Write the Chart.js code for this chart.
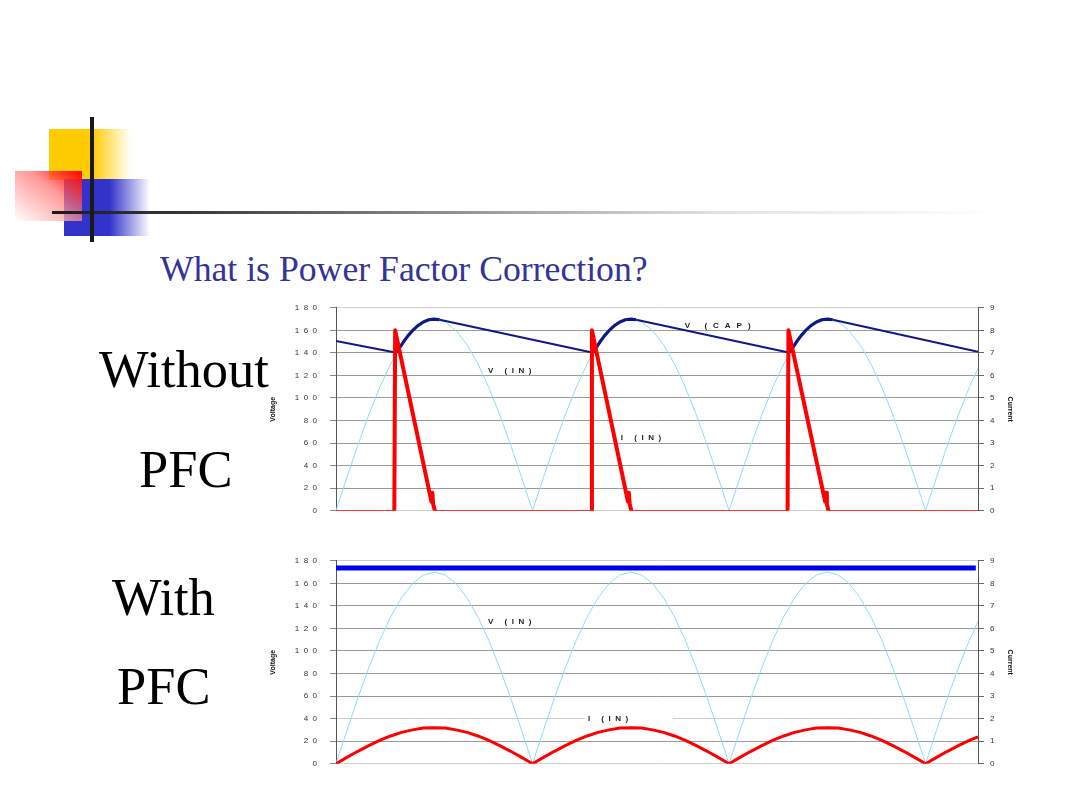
<!DOCTYPE html>
<html>
<head>
<meta charset="utf-8">
<title>What is Power Factor Correction?</title>
<script src="https://cdn.jsdelivr.net/npm/chart.js@4.4.1/dist/chart.umd.min.js"></script>
<style>
  html, body { margin: 0; padding: 0; background: #fff; }
  #slide { position: relative; width: 1080px; height: 810px; overflow: hidden; background: #fff; }
  .abs { position: absolute; }
  .serif { font-family: "Liberation Serif", "Times New Roman", serif; line-height: 1; white-space: nowrap; }
  #yellow { left: 49px; top: 129px; width: 82px; height: 51px;
    background: linear-gradient(to right, #ffcc00 0%, #ffcc00 53%, rgba(255,204,0,0) 100%); }
  #blue { left: 64px; top: 179px; width: 86px; height: 57px;
    background: linear-gradient(to right, #3333cc 0%, #3333cc 53%, rgba(51,51,204,0) 100%); }
  #red { left: 15px; top: 171px; width: 67px; height: 50px;
    background: linear-gradient(to bottom left, #ff0000 0%, rgba(255,110,110,0.7) 40%, rgba(255,255,255,0.9) 100%); }
  #hline { left: 52px; top: 210.5px; width: 950px; height: 3.5px;
    background: linear-gradient(to right, #1a1a1a 0%, #3a3a3a 15%, #9a9a9a 45%, #e2e2e2 70%, rgba(255,255,255,0) 100%); }
  #vline { left: 90px; top: 117px; width: 3.5px; height: 125px; background: #1a1a1a; }
  #title { left: 160px; top: 251.5px; font-size: 35.7px; color: #333399; }
  .side { font-size: 52.5px; color: #000; }
  .chartbox { position: absolute; left: 262px; width: 760px; height: 238.5px; }
</style>
</head>
<body>
<div id="slide">
  <div id="yellow" class="abs"></div>
  <div id="blue" class="abs"></div>
  <div id="red" class="abs"></div>
  <div id="hline" class="abs"></div>
  <div id="vline" class="abs"></div>
  <div id="title" class="abs serif">What is Power Factor Correction?</div>
  <div class="abs serif side" style="left:99px; top:343px;">Without</div>
  <div class="abs serif side" style="left:139px; top:443px;">PFC</div>
  <div class="abs serif side" style="left:112px; top:571px;">With</div>
  <div class="abs serif side" style="left:117px; top:660px;">PFC</div>
  <div class="chartbox" style="top:289.5px;"><canvas id="noPfc"></canvas></div>
  <div class="chartbox" style="top:542.5px;"><canvas id="withPfc"></canvas></div>
</div>

<script>
// phase of the mains (degrees) for the rectified input voltage samples
const phase = [0, 10, 20, 30, 40, 50, 60, 70, 80, 90, 100, 110, 120, 130, 140, 150, 160, 170,
  180, 190, 200, 210, 220, 230, 240, 250, 260, 270, 280, 290, 300, 310, 320, 330, 340, 350,
  360, 370, 380, 390, 400, 410, 420, 430, 440, 450, 460, 470, 480, 490, 500, 510, 520, 530,
  540, 550, 560, 570, 580, 588]

// V(IN), rectified line voltage (V)
const vIn = [0, 29.5, 58.1, 85, 109.3, 130.2, 147.2, 159.7, 167.4, 170, 167.4, 159.7, 147.2, 130.2, 109.3, 85, 58.1, 29.5,
  0, 29.5, 58.1, 85, 109.3, 130.2, 147.2, 159.7, 167.4, 170, 167.4, 159.7, 147.2, 130.2, 109.3, 85, 58.1, 29.5,
  0, 29.5, 58.1, 85, 109.3, 130.2, 147.2, 159.7, 167.4, 170, 167.4, 159.7, 147.2, 130.2, 109.3, 85, 58.1, 29.5,
  0, 29.5, 58.1, 85, 109.3, 126.3]

// without PFC: capacitor voltage
const capPhase = [0, 55.5, 58, 62, 66, 70, 75, 80, 85, 90, 95,
  235.5, 238, 242, 246, 250, 255, 260, 265, 270, 275,
  415.5, 418, 422, 426, 430, 435, 440, 445, 450, 455, 588]
const vCap = [150.5, 140.1, 144.2, 150.1, 155.3, 159.7, 164.2, 167.4, 169.4, 170, 169.4,
  140.1, 144.2, 150.1, 155.3, 159.7, 164.2, 167.4, 169.4, 170, 169.4,
  140.1, 144.2, 150.1, 155.3, 159.7, 164.2, 167.4, 169.4, 170, 169.4, 141]

// without PFC: input current pulses (A)
const pulsePhase = [0, 53.4, 54.2, 87.4, 88.2, 89, 90.5,
  233.6, 234.4, 267.4, 268.2, 269, 270.5,
  413.6, 414.4, 448, 448.8, 449.6, 451, 588]
const iInNoPfc = [0, 0, 8, 0.4, 0.8, 0.3, 0,
  0, 8, 0.4, 0.8, 0.3, 0,
  0, 8, 0.4, 0.8, 0.3, 0, 0]

// with PFC: input current follows the voltage (A)
const iInPfc = [0, 0.28, 0.55, 0.8, 1.03, 1.23, 1.39, 1.5, 1.58, 1.6, 1.58, 1.5, 1.39, 1.23, 1.03, 0.8, 0.55, 0.28,
  0, 0.28, 0.55, 0.8, 1.03, 1.23, 1.39, 1.5, 1.58, 1.6, 1.58, 1.5, 1.39, 1.23, 1.03, 0.8, 0.55, 0.28,
  0, 0.28, 0.55, 0.8, 1.03, 1.23, 1.39, 1.5, 1.58, 1.6, 1.58, 1.5, 1.39, 1.23, 1.03, 0.8, 0.55, 0.28,
  0, 0.28, 0.55, 0.8, 1.03, 1.19]

// with PFC: regulated bus voltage
const busPhase = [0, 586]
const vBus = [173.6, 173.6]

const voltTicks = [0, 20, 40, 60, 80, 100, 120, 140, 160, 180]
const ampTicks = [0, 1, 2, 3, 4, 5, 6, 7, 8, 9]

const pts = (xs, ys) => xs.map((x, i) => ({x: x, y: ys[i]}))

const sans = '"Liberation Sans", Arial, sans-serif'

// curve labels drawn inside the plot
const curveLabels = {
    id: 'curveLabels',
    beforeDatasetsDraw(chart, args, opts) {
        const ctx = chart.ctx
        const xs = chart.scales.x
        const ys = chart.scales.y
        ctx.save()
        ctx.font = 'bold 8px ' + sans
        ctx.textBaseline = 'middle'
        opts.items.forEach(l => {
            ctx.letterSpacing = l.spacing + 'px'
            const px = xs.getPixelForValue(l.x)
            const py = ys.getPixelForValue(l.y)
            if (l.box) {
                ctx.fillStyle = '#fff'
                ctx.fillRect(px - 3, py - 4, l.box, 8)
            }
            ctx.fillStyle = '#222'
            ctx.fillText(l.text, px, py)
        })
        ctx.restore()
    }
}

function makeChart(id, datasets, labels, lightLines) {
    const gridColor = c => lightLines.includes(c.tick.value) ? '#cdcdcd' : '#9a9a9a'
    return new Chart(document.getElementById(id), {
        type: 'line',
        data: {datasets: datasets},
        plugins: [curveLabels],
        options: {
            responsive: true,
            maintainAspectRatio: false,
            animation: false,
            events: [],
            layout: {padding: {top: id === 'noPfc' ? 10.5 : 10.7, bottom: id === 'noPfc' ? 13 : 12.7, left: 0, right: 0}},
            elements: {point: {radius: 0}, line: {tension: 0, borderJoinStyle: 'round', borderCapStyle: 'butt'}},
            plugins: {legend: {display: false}, tooltip: {enabled: false}, curveLabels: {items: labels}},
            scales: {
                x: {type: 'linear', min: 0, max: 588, display: false},
                y: {
                    position: 'left', min: 0, max: 180,
                    afterFit(s) { s.width = 74 },
                    afterBuildTicks(s) { s.ticks = voltTicks.map(v => ({value: v})) },
                    ticks: {
                        padding: 13, color: '#333', font: {family: sans, size: 8},
                        callback: v => String(v).split('').join('  ')
                    },
                    grid: {color: gridColor, tickColor: '#888', tickLength: 6, lineWidth: 1},
                    border: {display: true, color: '#555', width: 1},
                    title: {display: true, text: 'Voltage', color: '#111', padding: {top: 7, bottom: 0},
                        font: {family: sans, size: 7, weight: 'bold'}}
                },
                y2: {
                    position: 'right', min: 0, max: 9,
                    afterFit(s) { s.width = 44 },
                    afterBuildTicks(s) { s.ticks = ampTicks.map(v => ({value: v})) },
                    ticks: {padding: 6, color: '#333', font: {family: sans, size: 8}},
                    grid: {drawOnChartArea: false, tickColor: '#666', tickLength: 6},
                    border: {display: true, color: '#555', width: 1},
                    title: {display: true, text: 'Current', color: '#111', padding: {top: 8, bottom: 0},
                        font: {family: sans, size: 7, weight: 'bold'}}
                }
            }
        }
    })
}

makeChart('noPfc', [
    {
        label: 'I (IN)', yAxisID: 'y2', data: pts(pulsePhase, iInNoPfc),
        borderColor: '#ff0000', borderWidth: 4,
        segment: {borderWidth: c => (c.p0.parsed.y === 0 && c.p1.parsed.y === 0) ? 1.5 : 4}
    },
    {
        label: 'V (CAP)', yAxisID: 'y', data: pts(capPhase, vCap),
        borderColor: '#0d1a85', borderWidth: 2,
        segment: {borderWidth: c => (c.p1.parsed.x - c.p0.parsed.x) < 20 ? 3.2 : 2}
    },
    {
        label: 'V (IN)', yAxisID: 'y', data: pts(phase, vIn),
        borderColor: '#8fdcf5', borderWidth: 1
    }
], [
    {text: 'V (CAP)', x: 319.5, y: 163.6, spacing: 6},
    {text: 'V (IN)', x: 139.2, y: 124.4, spacing: 4.5},
    {text: 'I (IN)', x: 260.9, y: 64.9, spacing: 4.5}
], [0, 180])

makeChart('withPfc', [
    {
        label: 'V (OUT)', yAxisID: 'y', data: pts(busPhase, vBus),
        borderColor: '#0000ee', borderWidth: 5
    },
    {
        label: 'I (IN)', yAxisID: 'y2', data: pts(phase, iInPfc),
        borderColor: '#ff0000', borderWidth: 3
    },
    {
        label: 'V (IN)', yAxisID: 'y', data: pts(phase, vIn),
        borderColor: '#8fdcf5', borderWidth: 1
    }
], [
    {text: 'V (IN)', x: 139.2, y: 125.5, spacing: 4.5},
    {text: 'I (IN)', x: 230.7, y: 40.2, spacing: 4.5, box: 88}
], [0, 40, 180])
</script>
</body>
</html>
